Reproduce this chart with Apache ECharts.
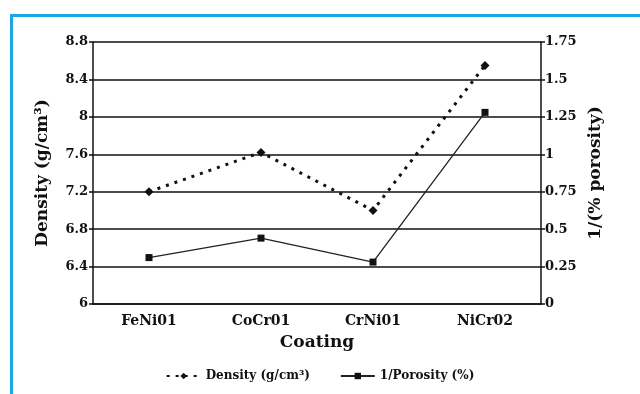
<!DOCTYPE html>
<html>
<head>
<meta charset="utf-8">
<script src="https://cdn.jsdelivr.net/npm/echarts@6/dist/echarts.min.js"></script>
<style>
html,body{margin:0;padding:0;background:#fff;}
#c{width:640px;height:394px;}
</style>
</head>
<body>
<div id="c"></div>
<script>
var categories = ['FeNi01', 'CoCr01', 'CrNi01', 'NiCr02'];
var density = [7.2, 7.62, 7.0, 8.55];
var porosityInv = [0.31, 0.44, 0.28, 1.28];
var densityName = 'Density (g/cm\u00B3)';
var porosityName = '1/Porosity (%)';

var FONT = 'DejaVu Serif';
var chart = echarts.init(document.getElementById('c'), null, {renderer: 'canvas'});
chart.setOption({
  animation: false,
  backgroundColor: '#fff',
  graphic: [{
    type: 'rect', left: 9, top: 13, z: -1,
    shape: {x: 0, y: 0, width: 700, height: 500},
    style: {fill: 'none', stroke: '#1aa7e2', lineWidth: 3}
  }],
  grid: {left: 93, right: 99, top: 42, bottom: 90},
  legend: {
    bottom: 7, left: 'center', itemWidth: 34, itemHeight: 8, itemGap: 30,
    textStyle: {fontFamily: FONT, fontWeight: 'bold', fontSize: 12, color: '#111'},
    data: [densityName, porosityName]
  },
  xAxis: {
    type: 'category', data: categories, boundaryGap: true,
    name: 'Coating', nameLocation: 'middle', nameGap: 30,
    nameTextStyle: {fontFamily: FONT, fontWeight: 'bold', fontSize: 17, color: '#111'},
    axisLine: {lineStyle: {color: '#111', width: 1.5}},
    axisTick: {show: false},
    axisLabel: {fontFamily: FONT, fontWeight: 'bold', fontSize: 14, color: '#111', margin: 10}
  },
  yAxis: [{
    type: 'value', min: 6, max: 8.8, interval: 0.4, position: 'left',
    name: 'Density (g/cm\u00B3)', nameLocation: 'middle', nameGap: 42, nameRotate: 90,
    nameTextStyle: {fontFamily: FONT, fontWeight: 'bold', fontSize: 17, color: '#111'},
    axisLine: {show: true, lineStyle: {color: '#111', width: 1.5}},
    axisTick: {show: true, length: 4, lineStyle: {color: '#111', width: 1.5}},
    axisLabel: {fontFamily: FONT, fontWeight: 'bold', fontSize: 13, color: '#111', margin: 5},
    splitLine: {show: true, lineStyle: {color: '#111', width: 1.5}}
  }, {
    type: 'value', min: 0, max: 1.75, interval: 0.25, position: 'right',
    name: '1/(% porosity)', nameLocation: 'middle', nameGap: 42, nameRotate: 90,
    nameTextStyle: {fontFamily: FONT, fontWeight: 'bold', fontSize: 17, color: '#111'},
    axisLine: {show: true, lineStyle: {color: '#111', width: 1.5}},
    axisTick: {show: true, length: 4, lineStyle: {color: '#111', width: 1.5}},
    axisLabel: {fontFamily: FONT, fontWeight: 'bold', fontSize: 13, color: '#111', margin: 4},
    splitLine: {show: false}
  }],
  series: [{
    name: densityName, type: 'line', yAxisIndex: 0, data: density,
    symbol: 'diamond', symbolSize: 9,
    itemStyle: {color: '#111'},
    lineStyle: {color: '#111', width: 3, type: [3, 6]}
  }, {
    name: porosityName, type: 'line', yAxisIndex: 1, data: porosityInv,
    symbol: 'rect', symbolSize: 7,
    itemStyle: {color: '#111'},
    lineStyle: {color: '#222', width: 1.3, type: 'solid'}
  }]
});
</script>
</body>
</html>
